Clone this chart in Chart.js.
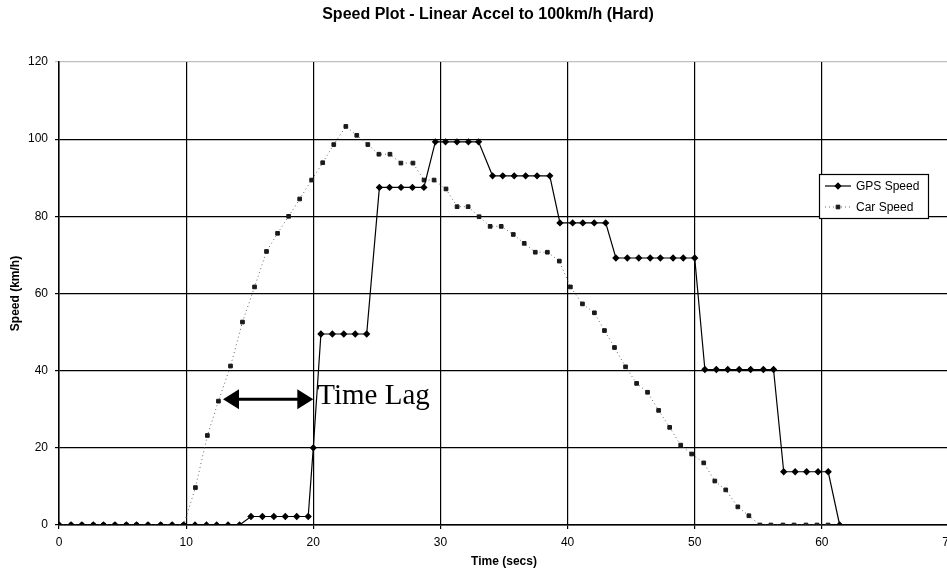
<!DOCTYPE html>
<html><head><meta charset="utf-8">
<script src="https://cdn.jsdelivr.net/npm/chart.js@4"></script>
<style>html,body{margin:0;padding:0;background:#fff;overflow:hidden}#wrap{width:962px;height:583px;position:relative}</style>
</head><body><div id="wrap"><canvas id="c" width="962" height="583"></canvas></div>
<script>
const chartTitle = 'Speed Plot - Linear Accel to 100km/h (Hard)';
const xTitle = 'Time (secs)';
const yTitle = 'Speed (km/h)';
const seriesNames = ['GPS Speed', 'Car Speed'];
const annotationText = 'Time Lag';

const gpsTime = [0, 0.95, 1.8, 2.7, 3.5, 4.4, 5.3, 6.1, 7.0, 8.0, 8.9, 9.8,
  10.7, 11.6, 12.4, 13.3, 14.2,
  15.1, 16.0, 16.9, 17.8, 18.7, 19.6,
  20.0,
  20.6, 21.5, 22.4, 23.3, 24.2,
  25.2, 26.0, 26.9, 27.8, 28.7,
  29.6, 30.4, 31.3, 32.2, 33.0,
  34.1, 34.9, 35.8, 36.7, 37.6, 38.6,
  39.4, 40.4, 41.2, 42.1, 43.0,
  43.8, 44.7, 45.6, 46.5, 47.3, 48.3, 49.1, 50.0,
  50.8, 51.7, 52.6, 53.5, 54.4, 55.4, 56.2,
  57.0, 57.9, 58.8, 59.7, 60.5,
  61.4];
const gpsSpeed = [0, 0, 0, 0, 0, 0, 0, 0, 0, 0, 0, 0,
  0, 0, 0, 0, 0,
  2.2, 2.2, 2.2, 2.2, 2.2, 2.2,
  20,
  49.5, 49.5, 49.5, 49.5, 49.5,
  87.5, 87.5, 87.5, 87.5, 87.5,
  99.3, 99.3, 99.3, 99.3, 99.3,
  90.5, 90.5, 90.5, 90.5, 90.5, 90.5,
  78.3, 78.3, 78.3, 78.3, 78.3,
  69.2, 69.2, 69.2, 69.2, 69.2, 69.2, 69.2, 69.2,
  40.3, 40.3, 40.3, 40.3, 40.3, 40.3, 40.3,
  13.8, 13.8, 13.8, 13.8, 13.8,
  0];

const carTime = [0, 0.95, 1.8, 2.7, 3.5, 4.4, 5.3, 6.1, 7.0, 8.0, 8.9, 9.8,
  10.73, 11.67, 12.54, 13.49, 14.43, 15.38, 16.32, 17.19, 18.06, 18.93,
  19.87, 20.74, 21.61, 22.56, 23.42, 24.29, 25.16, 26.03, 26.89, 27.84,
  28.71, 29.50, 30.44, 31.31, 32.18, 33.04, 33.91, 34.78, 35.73, 36.59,
  37.46, 38.41, 39.35, 40.22, 41.17, 42.11, 42.90, 43.69, 44.56, 45.43,
  46.29, 47.16, 48.03, 48.90, 49.76, 50.71, 51.58, 52.44, 53.39, 54.26,
  55.13, 55.99, 56.94, 57.81, 58.75, 59.62, 60.49];
const carSpeed = [0, 0, 0, 0, 0, 0, 0, 0, 0, 0, 0, 0,
  9.7, 23.2, 32.1, 41.2, 52.6, 61.7, 70.9, 75.6, 80.0, 84.5,
  89.4, 93.9, 98.6, 103.3, 101, 98.6, 96.1, 96.1, 93.8, 93.8,
  89.4, 89.4, 87.1, 82.5, 82.5, 79.9, 77.4, 77.4, 75.3, 73,
  70.7, 70.7, 68.4, 61.7, 57.3, 55, 50.4, 46, 41, 36.7,
  34.4, 29.7, 25.3, 20.7, 18.4, 16.1, 11.4, 9.1, 4.7, 2.4,
  0, 0, 0, 0, 0, 0, 0];

const xRange = [0, 70], xStep = 10;
const yRange = [0, 120], yStep = 20;
const lagFrom = 12.9, lagTo = 20.0, lagSpeed = 32.6;

const pairs = (xs, ys) => xs.map((x, i) => ({x, y: ys[i]}));
const FONT = "'Liberation Sans', Arial, sans-serif";

const titleDraw = {
  id: 'titleDraw',
  afterDraw(chart) {
    const {ctx, chartArea} = chart;
    ctx.save();
    ctx.fillStyle = '#000';
    ctx.font = 'bold 16px ' + FONT;
    ctx.textAlign = 'center';
    ctx.textBaseline = 'middle';
    ctx.fillText(chartTitle, (chartArea.left + chartArea.right) / 2 - 16, 15);
    ctx.restore();
  }
};

const boxLegend = {
  id: 'boxLegend',
  afterDraw(chart) {
    const {ctx, chartArea} = chart;
    const w = 109, h = 44;
    const x = chartArea.right - 130, y = chartArea.top + 112;
    ctx.save();
    ctx.fillStyle = '#fff';
    ctx.fillRect(x, y, w, h);
    ctx.strokeStyle = '#000';
    ctx.lineWidth = 1.2;
    ctx.setLineDash([]);
    ctx.strokeRect(x + 0.5, y + 0.5, w, h);
    chart.data.datasets.forEach((ds, i) => {
      const cy = y + 12 + i * 21;
      ctx.strokeStyle = ds.borderColor;
      ctx.lineWidth = ds.borderWidth;
      ctx.setLineDash(ds.borderDash || []);
      ctx.beginPath(); ctx.moveTo(x + 6, cy); ctx.lineTo(x + 32, cy); ctx.stroke();
      ctx.setLineDash([]);
      ctx.fillStyle = ds.pointBackgroundColor;
      ctx.strokeStyle = ds.pointBorderColor;
      Chart.helpers.drawPoint(ctx, {pointStyle: ds.pointStyle, radius: ds.pointRadius, rotation: 0, borderWidth: 1}, x + 19, cy);
      ctx.fillStyle = '#000';
      ctx.font = '12px ' + FONT;
      ctx.textAlign = 'left';
      ctx.textBaseline = 'middle';
      ctx.fillText(ds.label, x + 37, cy + 1);
    });
    ctx.restore();
  }
};

const lagArrow = {
  id: 'lagArrow',
  afterDraw(chart) {
    const {ctx, scales} = chart;
    const x1 = scales.x.getPixelForValue(lagFrom);
    const x2 = scales.x.getPixelForValue(lagTo);
    const y = scales.y.getPixelForValue(lagSpeed);
    const hl = 16, hh = 10;
    ctx.save();
    ctx.strokeStyle = '#000';
    ctx.fillStyle = '#000';
    ctx.lineWidth = 3;
    ctx.beginPath(); ctx.moveTo(x1 + hl - 2, y); ctx.lineTo(x2 - hl + 2, y); ctx.stroke();
    ctx.beginPath(); ctx.moveTo(x1, y); ctx.lineTo(x1 + hl, y - hh); ctx.lineTo(x1 + hl, y + hh); ctx.closePath(); ctx.fill();
    ctx.beginPath(); ctx.moveTo(x2, y); ctx.lineTo(x2 - hl, y - hh); ctx.lineTo(x2 - hl, y + hh); ctx.closePath(); ctx.fill();
    ctx.font = "29px 'Liberation Serif', 'Times New Roman', serif";
    ctx.textAlign = 'left';
    ctx.textBaseline = 'alphabetic';
    ctx.fillText(annotationText, x2 + 4, y + 5);
    ctx.restore();
  }
};

new Chart(document.getElementById('c'), {
  type: 'scatter',
  data: {
    datasets: [
      {
        label: seriesNames[0],
        data: pairs(gpsTime, gpsSpeed),
        showLine: true,
        borderColor: '#000',
        borderWidth: 1.2,
        pointStyle: 'rectRot',
        pointRadius: 2.8,
        pointBackgroundColor: '#000',
        pointBorderColor: '#000',
        tension: 0
      },
      {
        label: seriesNames[1],
        data: pairs(carTime, carSpeed),
        showLine: true,
        borderColor: '#666',
        borderWidth: 1,
        borderDash: [1, 3],
        pointStyle: 'rect',
        pointRadius: 2.6,
        pointBackgroundColor: '#1a1a1a',
        pointBorderColor: '#1a1a1a',
        tension: 0
      }
    ]
  },
  options: {
    responsive: false,
    animation: false,
    devicePixelRatio: 1,
    layout: {padding: {left: 0, right: 13, top: 62, bottom: 0}},
    plugins: {
      legend: {display: false},
      tooltip: {enabled: false},
      title: {display: false}
    },
    scales: {
      x: {
        type: 'linear',
        min: xRange[0], max: xRange[1],
        afterFit: s => { s.height = 58; },
        ticks: {stepSize: xStep, color: '#000', font: {family: FONT, size: 12}, padding: 6, maxRotation: 0},
        grid: {color: '#000', lineWidth: 1.2, tickLength: 4},
        border: {display: true, color: '#000', width: 1.5},
        title: {display: true, text: xTitle, color: '#000', font: {family: FONT, size: 12, weight: 'bold'}, padding: {top: 0, bottom: 14}}
      },
      y: {
        min: yRange[0], max: yRange[1],
        afterFit: s => { s.width = 59; },
        ticks: {stepSize: yStep, color: '#000', font: {family: FONT, size: 12}, padding: 7},
        grid: {color: c => (c.tick && c.tick.value === yRange[1]) ? 'rgba(0,0,0,0.25)' : '#000', lineWidth: 1.2, tickLength: 4},
        border: {display: true, color: '#000', width: 1.5},
        title: {display: true, text: yTitle, color: '#000', font: {family: FONT, size: 12, weight: 'bold'}, padding: {top: 8, bottom: 0}}
      }
    }
  },
  plugins: [lagArrow, boxLegend, titleDraw]
});
</script>
</body></html>
